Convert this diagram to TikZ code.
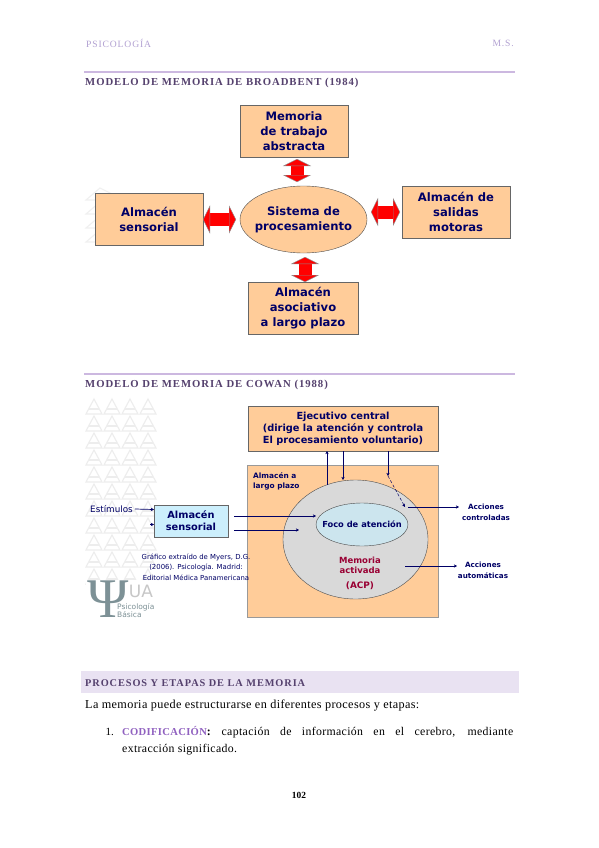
\documentclass[tikz,border=0pt]{standalone}
\usepackage{fontspec}
\setmainfont{Liberation Serif}
\setsansfont{DejaVu Sans}
\newfontfamily\headfont[LetterSpace=9]{Liberation Serif}
\newfontfamily\bodyfont[LetterSpace=3]{Liberation Serif}
\usetikzlibrary{positioning, arrows.meta, shapes.geometric}
\definecolor{navytxt}{RGB}{0,0,102}
\definecolor{orangebox}{RGB}{255,204,153}
\definecolor{lilacline}{RGB}{204,184,224}
\definecolor{lilacband}{RGB}{233,226,242}
\definecolor{headpurple}{RGB}{85,65,110}
\definecolor{softpurple}{RGB}{178,161,210}
\definecolor{codepurple}{RGB}{144,97,192}
\definecolor{grayell}{RGB}{217,217,217}
\definecolor{focoblue}{RGB}{204,229,238}
\definecolor{memred}{RGB}{153,0,51}
\definecolor{logogray}{RGB}{125,145,150}
\begin{document}
\begin{tikzpicture}[
    x=1pt, y=-1pt,
    box/.style={
      rectangle, draw=black!60, fill=orangebox, outer sep=0pt,
      minimum height=52pt, minimum width=108pt, inner sep=0pt,
      align=center, text=navytxt,
      font=\sffamily\bfseries\fontsize{11.6}{15}\selectfont
    },
    blob/.style={
      ellipse, draw=black!70, inner sep=0pt, outer sep=0pt, align=center
    },
    blockarr/.style={
      {Triangle[length=7pt, width=28pt, fill=red, color=black!45, line width=0.4pt]}-{Triangle[length=7pt, width=28pt, fill=red, color=black!45, line width=0.4pt]},
      draw=red, line width=13pt
    },
    arr/.style={-{Stealth[length=3.2pt, width=3.4pt]}, draw=navytxt, line width=0.7pt},
    tag/.style={
      align=center, text=navytxt, inner sep=0pt,
      font=\sffamily\bfseries\fontsize{7.2}{10.8}\selectfont
    },
    title/.style={
      anchor=west, inner sep=0pt, text=headpurple,
      font=\headfont\bfseries\fontsize{10.7}{12}\selectfont
    },
    rulebar/.style={draw=lilacline, line width=1.2pt},
    wmark/.style={draw=black!7, line width=1.1pt}
  ]
    \fill[white] (0,0) rectangle (599,848);

    % page head
    \node[title, text=softpurple, font=\headfont\fontsize{9.6}{12}\selectfont] (headl) at (86,43.5) {PSICOLOGÍA};
    \node[title, anchor=east, text=softpurple, font=\headfont\fontsize{9.6}{12}\selectfont] (headr) at (514,43.5) {M.S.};
    \draw[rulebar] (84,72) -- (515,72);
    \node[title] (tbroad) at (85,83) {MODELO DE MEMORIA DE BROADBENT (1984)};

    % faint marks behind the first figure
    \foreach \yy in {188,202,...,240} {
      \draw[wmark, draw=black!6] (86,\yy+12) -- (100,\yy) -- (124,\yy+12) -- cycle;
    }

    % Broadbent
    \node[blob, fill=orangebox, inner xsep=-6pt, minimum width=127pt, minimum height=67pt, text=navytxt,
      font=\sffamily\bfseries\fontsize{11.6}{15}\selectfont] (sis) at (303.5,219.5) {Sistema de\\procesamiento};
    \node[box, above=29pt of sis, xshift=-9.5pt] (mem) {Memoria\\de trabajo\\abstracta};
    \node[box, below=29pt of sis, xshift=-0.5pt, minimum width=110pt] (aso) {Almacén\\asociativo\\a largo plazo};
    \node[box, left=37pt of sis] (sen) {Almacén\\sensorial};
    \node[box, right=35pt of sis, yshift=7.5pt] (sal) {Almacén de\\salidas\\motoras};
    \draw[blockarr, shorten <=2pt, shorten >=4pt] ([xshift=3pt]mem.south) -- ([xshift=3pt]mem.south |- sis.north);
    \draw[blockarr, shorten <=4pt, shorten >=0pt] ([xshift=1.5pt]sis.south) -- ([xshift=1.5pt]sis.south |- aso.north);
    \draw[blockarr, shorten >=4pt] (sen.east) -- (sen.east -| sis.west);
    \draw[blockarr, shorten <=2pt, shorten >=4pt] (sal.west) -- (sal.west -| sis.east);

    \draw[rulebar] (84,374) -- (515,374);
    \node[title] (tcowan) at (85,385) {MODELO DE MEMORIA DE COWAN (1988)};

    % faint pattern and logo
    \foreach \xx in {86,104,122,140} {
      \foreach \yy in {399,416,...,570} {
        \draw[wmark] (\xx,\yy+15) -- (\xx+8,\yy) -- (\xx+16,\yy+15) -- cycle;
        \draw[wmark] (\xx+3,\yy+10) -- (\xx+13,\yy+10);
      }
    }
    \fill[white] (86,580) rectangle (160,620);
    \node[text=logogray, inner sep=0pt, font=\fontsize{56}{56}\selectfont] (psi) at (108,599) {Ψ};
    \node[text=black!22, inner sep=0pt, font=\sffamily\fontsize{17}{17}\selectfont] (ua) at (141,591) {UA};
    \node[text=logogray, inner sep=0pt, align=left, anchor=west, font=\sffamily\fontsize{7.5}{8.5}\selectfont] (psib) at (117,610.5) {Psicología\\Básica};

    % Cowan
    \node[box, minimum width=190pt, minimum height=45pt, font=\sffamily\bfseries\fontsize{9.8}{12}\selectfont] (eje) at (343,428.5) {Ejecutivo central\\(dirige la atención y controla\\El procesamiento voluntario)};
    \node[rectangle, fill=orangebox, draw=black!40, minimum width=191pt, minimum height=152pt, outer sep=0pt] (lar) at (342.5,541) {};
    \node[blob, fill=grayell, minimum width=145pt, minimum height=119pt] (act) at (355.5,539.5) {};
    \node[blob, fill=focoblue, inner xsep=-9pt, minimum width=92pt, minimum height=43pt, text=navytxt,
      font=\sffamily\bfseries\fontsize{8.3}{10}\selectfont] (foco) at (362,524.5) {Foco de atención};
    \node[box, fill=cyan!20, minimum width=74pt, minimum height=32pt, font=\sffamily\bfseries\fontsize{9.8}{12}\selectfont] (alm) at (191,521) {Almacén\\sensorial};
    \node[tag, anchor=west, align=left, font=\sffamily\bfseries\fontsize{7.4}{10.5}\selectfont] (lplazo) at (253,481.5) {Almacén a\\largo plazo};
    \node[tag, text=memred, font=\sffamily\bfseries\fontsize{8.5}{10}\selectfont] (mact) at (360,565) {Memoria\\activada};
    \node[tag, text=memred, font=\sffamily\bfseries\fontsize{8.9}{10}\selectfont] (acp) at (360,586) {(ACP)};
    \node[tag, anchor=east, font=\sffamily\fontsize{8.8}{10}\selectfont] (estim) at (133,509.5) {Estímulos};
    \node[tag, font=\sffamily\fontsize{6.9}{10.3}\selectfont] (graf) at (196,567) {Gráfico extraído de Myers, D.G.\\(2006). Psicología. Madrid:\\Editorial Médica Panamericana};
    \node[tag] (acon) at (486,512.5) {Acciones\\controladas};
    \node[tag] (aaut) at (483,570.5) {Acciones\\automáticas};

    \coordinate (st2) at (150,524.5);
    \coordinate (alm1) at (234,516);
    \coordinate (alm2) at (234,530);
    \coordinate (in2) at (299,530);
    \coordinate (ebaj) at (388,476);
    \coordinate (dpun) at (405,507);
    \coordinate (con0) at (408,507);
    \coordinate (aut0) at (405,566);
    \coordinate (sub0) at (327,485);
    \coordinate (con1) at (459,507);
    \coordinate (aut1) at (457,566);
    \draw[arr] (estim.east) ++(2,-0.5) -- (alm.west |- estim.east);
    \draw[arr] (st2) -- (st2 -| alm.west);
    \draw[arr] (alm1) -- (alm1 -| foco.west);
    \draw[arr] (alm2) -- (in2);
    \draw[arr] (sub0) -- (sub0 |- eje.south);
    \draw[arr] (eje.south) -- (eje.south |- act.north);
    \draw[arr] (ebaj |- eje.south) -- (ebaj);
    \draw[arr, densely dashed, line width=0.5pt] (ebaj) -- (dpun);
    \draw[arr] (con0) -- (con1);
    \draw[arr] (aut0) -- (aut1);

    % text under the figures
    \fill[lilacband] (81,671) rectangle (519,693);
    \node[title, font=\headfont\bfseries\fontsize{10.3}{12}\selectfont] (tproc) at (85,683) {PROCESOS Y ETAPAS DE LA MEMORIA};
    \node[anchor=west, inner sep=0pt, font=\bodyfont\fontsize{12.2}{14}\selectfont] (intro) at (85,706) {La memoria puede estructurarse en diferentes procesos y etapas:};
    \node[anchor=east, inner sep=0pt, font=\fontsize{11}{14}\selectfont] (num) at (114,732) {1.};
    \node[anchor=north west, inner sep=0pt, text width=391pt, align=justify, font=\bodyfont\fontsize{11.8}{17}\selectfont] (cod) at (122,726) {\textbf{\textcolor{codepurple}{\fontsize{10.6}{17}\selectfont CODIFICACIÓN}:} captación de información en el cerebro, mediante\linebreak extracción significado.};
    \node[inner sep=0pt, font=\bfseries\fontsize{9.4}{11}\selectfont] (pag) at (299,795) {102};
  \end{tikzpicture}
\end{document}
